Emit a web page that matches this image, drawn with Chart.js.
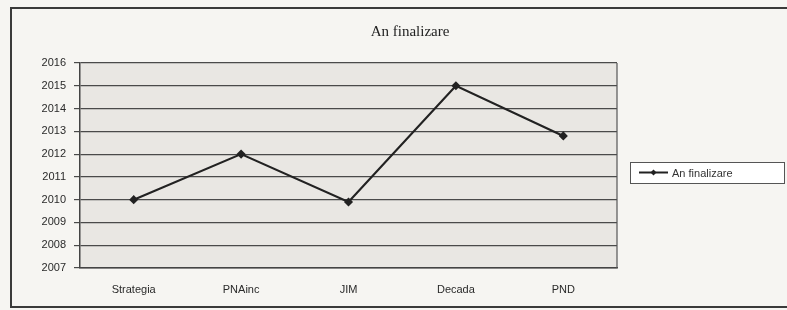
<!DOCTYPE html>
<html>
<head>
<meta charset="utf-8">
<script src="https://cdn.jsdelivr.net/npm/chart.js@4.4.0/dist/chart.umd.min.js"></script>
<style>
    html, body { margin: 0; padding: 0; background: #f6f5f2; }
    #wrap { width: 787px; height: 310px; }
</style>
</head>
<body>
<div id="wrap"><canvas id="lineChart" width="787" height="310"></canvas></div>
<script>
// date grafic
var categorii = ['Strategia', 'PNAinc', 'JIM', 'Decada', 'PND'];
var anFinalizare = [2010, 2012, 2009.9, 2015, 2012.8];
var anMin = 2007;
var anMax = 2016;
var titlu = 'An finalizare';

// fundal, chenar exterior, fundalul zonei de desen si titlul
var fundal = {
    id: 'fundal',
    beforeDraw: function(chart) {
        var ctx = chart.ctx;
        var a = chart.chartArea;
        ctx.save();
        ctx.fillStyle = '#f6f5f2';
        ctx.fillRect(0, 0, chart.width, chart.height);
        ctx.fillStyle = '#e9e7e3';
        ctx.fillRect(a.left, a.top, a.right - a.left, a.bottom - a.top);
        ctx.strokeStyle = '#3a3a3a';
        ctx.lineWidth = 2;
        ctx.strokeRect(11, 8, chart.width, 299);
        ctx.fillStyle = '#222';
        ctx.font = '15px "Liberation Serif", "Times New Roman", serif';
        ctx.textAlign = 'center';
        ctx.textBaseline = 'middle';
        ctx.fillText(titlu, 410, 32);
        ctx.restore();
    },
    beforeDatasetsDraw: function(chart) {
        // marginea dreapta a zonei de desen
        var ctx = chart.ctx;
        var a = chart.chartArea;
        ctx.save();
        ctx.strokeStyle = '#555';
        ctx.lineWidth = 1.2;
        ctx.beginPath();
        ctx.moveTo(a.right, a.top);
        ctx.lineTo(a.right, a.bottom);
        ctx.stroke();
        ctx.restore();
    }
};

// legenda desenata manual, cu chenar
var legenda = {
    id: 'legenda',
    afterDraw: function(chart) {
        var ctx = chart.ctx;
        var ds = chart.data.datasets[0];
        var x = 630, y = 162, w = 154, h = 21;
        var cy = y + h / 2;
        ctx.save();
        ctx.fillStyle = '#ffffff';
        ctx.fillRect(x, y, w, h);
        ctx.strokeStyle = '#555';
        ctx.lineWidth = 1;
        ctx.strokeRect(x + 0.5, y + 0.5, w, h);
        ctx.strokeStyle = ds.borderColor;
        ctx.lineWidth = 2;
        ctx.beginPath();
        ctx.moveTo(x + 9, cy);
        ctx.lineTo(x + 38, cy);
        ctx.stroke();
        ctx.fillStyle = ds.borderColor;
        ctx.beginPath();
        ctx.moveTo(x + 23.5, cy - 3);
        ctx.lineTo(x + 26.5, cy);
        ctx.lineTo(x + 23.5, cy + 3);
        ctx.lineTo(x + 20.5, cy);
        ctx.closePath();
        ctx.fill();
        ctx.fillStyle = '#333';
        ctx.font = '11px "Liberation Sans", Arial, sans-serif';
        ctx.textBaseline = 'middle';
        ctx.fillText(ds.label, x + 42, cy + 1);
        ctx.restore();
    }
};

var ctx = document.getElementById('lineChart').getContext('2d');
var chart = new Chart(ctx, {
    type: 'line',
    data: {
        labels: categorii,
        datasets: [{
            label: 'An finalizare',
            data: anFinalizare,
            borderColor: '#222222',
            backgroundColor: '#222222',
            borderWidth: 2.2,
            tension: 0,
            pointStyle: 'rectRot',
            pointRadius: 3,
            pointHoverRadius: 3
        }]
    },
    options: {
        responsive: false,
        animation: false,
        layout: { padding: { left: 14, top: 63, right: 170, bottom: 1 } },
        plugins: {
            legend: { display: false },
            tooltip: { enabled: false },
            title: { display: false }
        },
        scales: {
            x: {
                offset: true,
                afterFit: function(scale) { scale.height = 41; },
                grid: { display: false, drawTicks: false },
                border: { display: true, color: '#444', width: 1.5 },
                ticks: {
                    color: '#2a2a2a',
                    padding: 15,
                    font: { family: '"Liberation Sans", Arial, sans-serif', size: 11 }
                }
            },
            y: {
                min: anMin,
                max: anMax,
                afterFit: function(scale) { scale.width = 66; },
                grid: { color: '#4a4a4a', lineWidth: 1.2, tickLength: 6, tickColor: '#4a4a4a' },
                border: { display: true, color: '#444', width: 1.5 },
                ticks: {
                    stepSize: 1,
                    color: '#2a2a2a',
                    padding: 8,
                    font: { family: '"Liberation Sans", Arial, sans-serif', size: 11 },
                    callback: function(v) { return String(v); }
                }
            }
        }
    },
    plugins: [fundal, legenda]
});
</script>
</body>
</html>
